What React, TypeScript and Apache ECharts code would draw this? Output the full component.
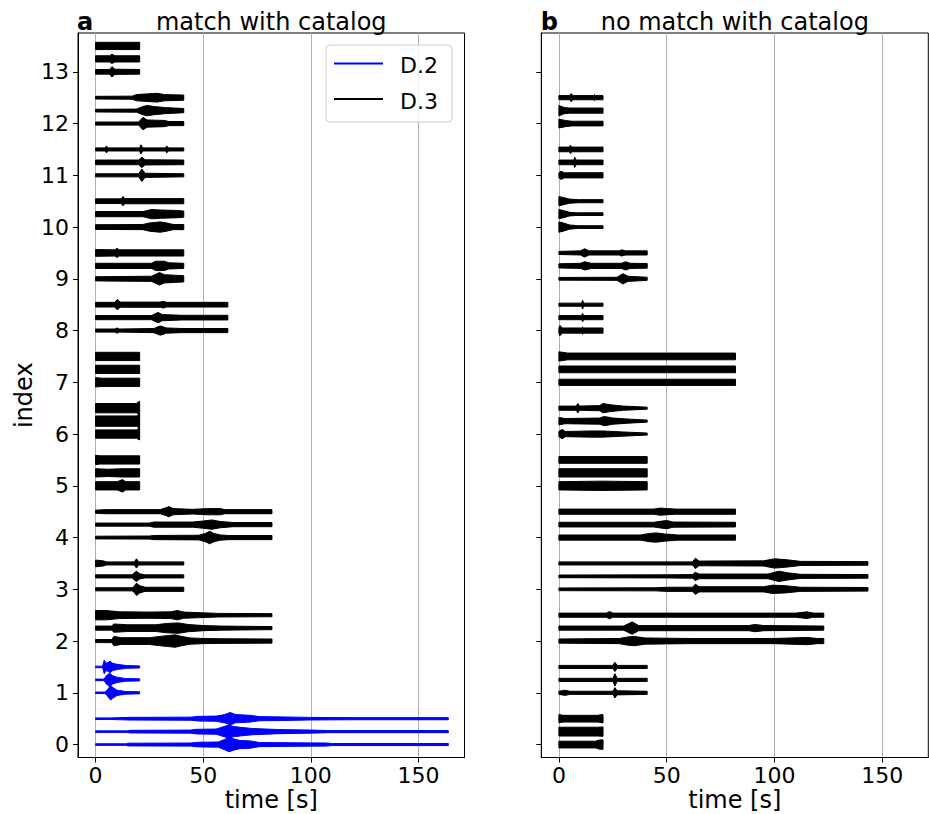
import React, { useEffect, useRef } from "react";
import * as echarts from "echarts";

// ---------- data ----------
const SEGMENT_S = 20.48; // trace lengths are multiples of this (seconds)
const OFFSETS = [0, 0.25, 0.5]; // vertical offset of the 3 components of each event
const X_TICKS = [0, 50, 100, 150];
const Y_TICKS = [0, 1, 2, 3, 4, 5, 6, 7, 8, 9, 10, 11, 12, 13];
const X_MIN = -8.16;
const X_MAX = 171.36;
const Y_MIN = -0.25;
const Y_MAX = 13.75;

const A_TITLE = "match with catalog";
const B_TITLE = "no match with catalog";
const STATIONS = ["D.2", "D.3"];

// panel a: number of 20.48 s segments per event, and station of each event
const A_SEGMENTS = [8, 1, 4, 2, 4, 1, 1, 1, 3, 2, 2, 2, 2, 1];
const A_STATION = ["D.2", "D.2", "D.3", "D.3", "D.3", "D.3", "D.3", "D.3", "D.3", "D.3", "D.3", "D.3", "D.3", "D.3"];
// panel b
const B_SEGMENTS = [1, 2, 6, 7, 4, 2, 2, 4, 1, 2, 1, 1, 1];
const B_STATION = ["D.3", "D.3", "D.3", "D.3", "D.3", "D.3", "D.3", "D.3", "D.3", "D.3", "D.3", "D.3", "D.3"];

// envelopes: per event, per component: flat [time s, half-amplitude (hundredths of an index unit), ...]
const A_ENVELOPES: number[][][] = [
  [
    [0, 1.5, 14, 1.5, 15, 2.6, 44, 3, 48, 4.5, 57, 5, 60, 10, 62, 14, 64, 11, 67, 8, 72, 7, 76, 4, 90, 3.5, 107, 3, 110, 2, 163.84, 2],
    [0, 1.5, 15, 1.5, 16, 2.5, 44, 3, 47, 4.5, 56, 5, 59, 9, 62, 13, 64, 10, 68, 8, 73, 6, 85, 4, 100, 3, 108, 2, 163.84, 2],
    [0, 1.5, 7, 1.5, 16, 2.6, 44, 3, 48, 4.5, 56, 5, 60, 8, 62.5, 12, 65, 8, 72, 6.5, 76, 4, 86, 3.5, 100, 2.5, 120, 2, 163.84, 2],
  ],
  [
    [0, 1.5, 4.5, 1.5, 5.5, 6, 7, 14, 8.5, 9, 10, 5, 14, 2.6, 20.48, 2],
    [0, 1.5, 4, 1.5, 5, 8, 6.5, 13, 8, 8, 10, 5, 14, 2.6, 20.48, 2],
    [0, 1.5, 3.3, 1.5, 4, 13, 5, 7, 6.8, 11, 8, 7, 10, 5, 14.5, 2.6, 20.48, 2],
  ],
  [
    [0, 3, 7.5, 3, 8.5, 9, 12, 6.5, 25, 6.5, 30, 9, 37, 12, 40, 9, 44, 6, 50, 5, 58, 4.5, 81.92, 4],
    [0, 4, 7.5, 4, 8.5, 8, 15, 6.5, 28, 6.5, 33, 9, 38.5, 10, 43, 7, 50, 5, 58, 4, 81.92, 3],
    [0, 9, 5, 9, 11, 6.5, 25, 6, 35, 6.5, 38, 9, 41, 6, 50, 4.5, 57, 3.5, 81.92, 3],
  ],
  [
    [0, 3, 17, 3, 18, 6, 19, 12, 20.5, 7, 23, 4, 40.96, 4],
    [0, 3, 17, 3, 18, 7, 19, 10, 20.5, 5, 23, 3, 40.96, 3],
    [0, 6.5, 3.5, 5, 5, 3, 18, 3, 19, 9, 20, 3, 40.96, 3],
  ],
  [
    [0, 2.6, 25, 3, 27, 4, 48, 4.5, 51, 8, 53, 12, 55, 8, 58, 5, 62, 4, 81.92, 4],
    [0, 3, 25, 3, 27, 5, 45, 5, 50, 7, 54, 9, 58, 6, 64, 4, 81.92, 4],
    [0, 3, 5, 4, 30, 4, 33, 8, 34, 10, 36, 6, 45, 4.5, 52, 6, 58, 6, 60, 4, 81.92, 4],
  ],
  [
    [0, 8, 10, 8, 12.5, 12, 14, 8, 20.48, 8],
    [0, 8, 6, 7, 12, 8, 20.48, 8],
    [0, 9, 2, 8, 20.48, 8],
  ],
  [
    [0, 8, 19, 8, 20.2, 11, 20.48, 11],
    [0, 10, 19, 10, 20.2, 13, 20.48, 13],
    [0, 9, 19, 9, 20.2, 13, 20.48, 13],
  ],
  [
    [0, 9, 3, 8, 20.48, 8],
    [0, 8, 20.48, 8],
    [0, 8, 20.48, 8],
  ],
  [
    [0, 3, 9, 3, 10, 5, 11, 3, 27, 4, 30, 9, 33, 5, 40, 4, 61.44, 4],
    [0, 4, 26, 4, 29, 10, 31, 6, 40, 4.5, 61.44, 4.5],
    [0, 4.5, 9, 4.5, 10, 10, 11.5, 5, 30, 5, 31.6, 6.5, 33, 4.5, 61.44, 4.5],
  ],
  [
    [0, 4, 26, 5, 29.7, 12, 32, 8, 40.96, 6],
    [0, 5, 26, 5, 28, 9, 32, 9, 34, 6, 40.96, 5],
    [0, 6.5, 9, 6, 10, 9, 11, 6, 40.96, 6],
  ],
  [
    [0, 4.5, 22, 5, 25, 8, 30, 10, 33, 8, 36, 5, 40.96, 5],
    [0, 5, 22, 5, 26, 9, 30, 8, 38, 7, 40.96, 6],
    [0, 4.5, 12, 4.5, 12.7, 9, 13.5, 5, 40.96, 5],
  ],
  [
    [0, 3, 20, 3, 21.5, 12, 23, 4, 40.96, 3],
    [0, 4.5, 20, 4.5, 21.5, 10, 23, 5, 40.96, 4.5],
    [0, 3, 4.5, 3, 5, 6.5, 6, 3, 20.5, 3, 21, 9, 22, 3, 32.5, 3, 33, 6.5, 34, 3, 40.96, 3],
  ],
  [
    [0, 3, 20, 3, 22, 12, 24, 7, 32, 6, 34, 4, 40.96, 4],
    [0, 2.6, 19, 3, 22, 8, 24, 10, 27, 8, 32, 6, 40.96, 4],
    [0, 2.6, 17, 3, 19, 6, 28.5, 8.5, 32, 6, 40.96, 5],
  ],
  [
    [0, 4.5, 6.5, 4.5, 7.6, 10, 9, 5, 20.48, 4.5],
    [0, 6, 6.5, 6, 7.6, 9, 9, 6, 20.48, 6],
    [0, 7, 20.48, 7],
  ],
];

const B_ENVELOPES: number[][][] = [
  [
    [0, 6.5, 17, 6.5, 19, 9, 20.48, 9],
    [0, 8.5, 18, 8.5, 20, 9, 20.48, 9],
    [0, 8, 2, 6.5, 18, 6.5, 20, 8, 20.48, 8],
  ],
  [
    [0, 3, 3, 5, 5, 3, 25, 3, 26, 10, 27, 4, 40.96, 3],
    [0, 3, 25, 3, 26, 12, 27, 3, 40.96, 3],
    [0, 3, 25, 3, 26, 9, 27, 3, 40.96, 3],
  ],
  [
    [0, 4, 28, 5, 32, 8, 35, 9, 40, 6, 60, 5, 100, 5, 115, 7, 120, 5, 122.88, 5],
    [0, 4, 30, 4, 34, 12, 37, 5, 88, 5, 91, 7, 95, 5, 122.88, 4],
    [0, 4, 22, 4, 23.5, 7, 25, 4, 110, 4, 115, 6.5, 118, 4, 122.88, 4],
  ],
  [
    [0, 2.6, 45, 3, 50, 4, 62, 4, 63.3, 10, 65, 5, 95, 5, 99, 8, 105, 7, 112, 4, 143.36, 3.5],
    [0, 2.6, 48, 3, 62, 3.5, 63.3, 8, 65, 4.5, 97, 4.5, 102, 10, 106, 7, 112, 4, 143.36, 3.5],
    [0, 3, 62, 3, 63.3, 10, 65, 4.5, 95, 5, 100, 9, 106, 7, 112, 4, 143.36, 3.5],
  ],
  [
    [0, 5, 38, 5, 42, 8, 45, 9, 49, 7, 55, 5, 81.92, 5],
    [0, 4.5, 44, 4.5, 48, 7, 50, 8, 53, 5, 81.92, 4.5],
    [0, 5, 44, 5, 47, 7, 50, 6, 54, 5, 81.92, 5],
  ],
  [
    [0, 8, 20, 9, 40.96, 8],
    [0, 8, 40.96, 8],
    [0, 6.5, 40.96, 6.5],
  ],
  [
    [0, 5, 1.5, 9, 3, 5, 15, 6, 20, 6, 30, 4, 40.96, 2],
    [0, 7, 3, 5, 19, 6, 21, 9, 25, 6, 32, 4, 40.96, 2],
    [0, 4, 8, 4, 8.8, 9, 9.6, 4, 19, 5, 20.4, 9, 24, 6.5, 30, 4, 40.96, 2],
  ],
  [
    [0, 6, 81.92, 6],
    [0, 6.5, 81.92, 6.5],
    [0, 9, 4, 6.5, 81.92, 6.5],
  ],
  [
    [0, 5, 0.5, 10, 1.5, 5, 10.5, 5, 11, 7, 11.5, 5, 20.48, 5],
    [0, 4, 10.5, 4, 11, 8, 11.5, 4, 20.48, 4],
    [0, 3, 10.5, 3, 11, 8.5, 11.5, 3, 20.48, 3],
  ],
  [
    [0, 2.6, 27, 3, 29.7, 10, 32, 5, 40.96, 3],
    [0, 4, 10, 5, 12, 8, 15, 5, 29, 5, 31, 8, 33, 5, 40.96, 4.5],
    [0, 3, 10, 4, 11.9, 8, 14, 4, 28, 4, 29, 6, 31, 4, 40.96, 4],
  ],
  [
    [0, 10, 2, 8, 5, 4, 9, 2.6, 20.48, 2.6],
    [0, 9, 2, 7, 5, 3.5, 8, 2.6, 20.48, 2.6],
    [0, 9, 2, 7, 5, 4, 9, 3, 20.48, 3],
  ],
  [
    [0, 5, 1, 8, 2.5, 5, 20.48, 5],
    [0, 4.5, 7, 4.5, 7.3, 10, 8, 4.5, 20.48, 4.5],
    [0, 4.5, 5, 4.5, 5.3, 8, 6, 4.5, 20.48, 4.5],
  ],
  [
    [0, 8.5, 3, 6, 6, 4.5, 20.48, 4.5],
    [0, 10, 2.5, 6, 5, 5, 20.48, 5],
    [0, 4, 5, 4, 5.7, 8, 6.5, 4, 16, 4, 16.5, 6, 17, 4, 20.48, 4],
  ],
];

// ---------- styling ----------
const COLORS: Record<string, string> = { "D.2": "#0000ff", "D.3": "#000000" };
const FONT = "'DejaVu Sans', sans-serif";

type Row = { y: number; knots: number[]; duration: number };

function buildRows(envelopes: number[][][], segments: number[], stations: string[], station: string): Row[] {
  const rows: Row[] = [];
  envelopes.forEach((ev, i) => {
    if (stations[i] !== station) return;
    ev.forEach((knots, k) => {
      rows.push({ y: i + OFFSETS[k], knots, duration: segments[i] * SEGMENT_S });
    });
  });
  return rows;
}

function traceSeries(name: string, rows: Row[], axisIndex: number) {
  const color = COLORS[name];
  return {
    type: "custom",
    name,
    xAxisIndex: axisIndex,
    yAxisIndex: axisIndex,
    silent: true,
    data: rows.map((r) => [0, r.y]),
    renderItem: (params: any, api: any) => {
      const r = rows[params.dataIndex];
      const upper: number[][] = [];
      const lower: number[][] = [];
      for (let j = 0; j < r.knots.length; j += 2) {
        const t = Math.min(r.knots[j], r.duration);
        const a = r.knots[j + 1] / 100;
        upper.push(api.coord([t, r.y + a]));
        lower.push(api.coord([t, r.y - a]));
      }
      const points = upper.concat(lower.reverse());
      return {
        type: "polygon",
        shape: { points },
        style: { fill: color, stroke: color, lineWidth: 1 },
      };
    },
  };
}

function xAxisFor(gridIndex: number) {
  return {
    type: "value",
    gridIndex,
    min: X_MIN,
    max: X_MAX,
    axisLine: { show: true, onZero: false, lineStyle: { color: "#000", width: 1 } },
    axisTick: { show: true, customValues: X_TICKS, length: 5, lineStyle: { color: "#000", width: 1 } },
    axisLabel: { customValues: X_TICKS, fontSize: 22, lineHeight: 22, color: "#000", fontFamily: FONT, margin: 7 },
    splitLine: { show: true, lineStyle: { color: "#b0b0b0", width: 1 } },
    name: "time [s]",
    nameLocation: "middle",
    nameGap: 42.5,
    nameMoveOverlap: false,
    nameTextStyle: { fontSize: 24, lineHeight: 24, verticalAlign: "middle", color: "#000", fontFamily: FONT },
  };
}

function yAxisFor(gridIndex: number, showLabels: boolean) {
  return {
    type: "value",
    gridIndex,
    min: Y_MIN,
    max: Y_MAX,
    axisLine: { show: true, onZero: false, lineStyle: { color: "#000", width: 1 } },
    axisTick: { show: true, customValues: Y_TICKS, length: 5, lineStyle: { color: "#000", width: 1 } },
    axisLabel: { show: showLabels, customValues: Y_TICKS, fontSize: 22, color: "#000", fontFamily: FONT, margin: 9 },
    splitLine: { show: false },
    name: showLabels ? "index" : "",
    nameLocation: "middle",
    nameGap: 42,
    nameTextStyle: { fontSize: 24, color: "#000", fontFamily: FONT },
  };
}

const GRID_A = { left: 78, top: 33, width: 386.5, height: 724.5 };
const GRID_B = { left: 541.3, top: 33, width: 387, height: 724.5 };

export default function App() {
  const ref = useRef<HTMLDivElement>(null);
  useEffect(() => {
    if (!ref.current) return;
    const chart = echarts.init(ref.current, undefined, { renderer: "svg" });
    const aD2 = buildRows(A_ENVELOPES, A_SEGMENTS, A_STATION, "D.2");
    const aD3 = buildRows(A_ENVELOPES, A_SEGMENTS, A_STATION, "D.3");
    const bD3 = buildRows(B_ENVELOPES, B_SEGMENTS, B_STATION, "D.3");

    const titleY = 21.5;
    const legendX = 326;
    const legendY = 45;
    const gridCommon = {
      show: true,
      borderColor: "#000",
      borderWidth: 1,
      backgroundColor: "transparent",
      containLabel: false,
      outerBoundsMode: "none",
    };
    const option: any = {
      animation: false,
      backgroundColor: "#ffffff",
      grid: [
        { ...GRID_A, ...gridCommon },
        { ...GRID_B, ...gridCommon },
      ],
      xAxis: [xAxisFor(0), xAxisFor(1)],
      yAxis: [yAxisFor(0, true), yAxisFor(1, false)],
      series: [traceSeries("D.2", aD2, 0), traceSeries("D.3", aD3, 0), traceSeries("D.3", bD3, 1)],
      graphic: [
        {
          type: "text",
          style: { text: A_TITLE, x: GRID_A.left + GRID_A.width / 2, y: titleY, align: "center", verticalAlign: "middle", fontSize: 24, fontFamily: FONT, fill: "#000" },
        },
        {
          type: "text",
          style: { text: "a", x: GRID_A.left - 1, y: titleY, align: "left", verticalAlign: "middle", fontSize: 24, fontWeight: "bold", fontFamily: FONT, fill: "#000" },
        },
        {
          type: "text",
          style: { text: B_TITLE, x: GRID_B.left + GRID_B.width / 2, y: titleY, align: "center", verticalAlign: "middle", fontSize: 24, fontFamily: FONT, fill: "#000" },
        },
        {
          type: "text",
          style: { text: "b", x: GRID_B.left - 0.5, y: titleY, align: "left", verticalAlign: "middle", fontSize: 24, fontWeight: "bold", fontFamily: FONT, fill: "#000" },
        },
        {
          type: "rect",
          shape: { x: legendX, y: legendY, width: 126, height: 77, r: 4 },
          style: { fill: "rgba(255,255,255,0.8)", stroke: "#cccccc", lineWidth: 1 },
          z: 10,
        },
        ...STATIONS.map((s, i) => ({
          type: "line",
          shape: { x1: legendX + 8, y1: legendY + 18.5 + i * 35.5, x2: legendX + 57, y2: legendY + 18.5 + i * 35.5 },
          style: { stroke: COLORS[s], lineWidth: 2 },
          z: 11,
        })),
        ...STATIONS.map((s, i) => ({
          type: "text",
          style: { text: s, x: legendX + 74, y: legendY + 20.5 + i * 35.5, align: "left", verticalAlign: "middle", fontSize: 22, fontFamily: FONT, fill: "#000" },
          z: 11,
        })),
      ],
    };
    chart.setOption(option);
    return () => chart.dispose();
  }, []);
  return <div ref={ref} style={{ position: "absolute", left: 0, top: 0, width: 929, height: 814 }} />;
}
